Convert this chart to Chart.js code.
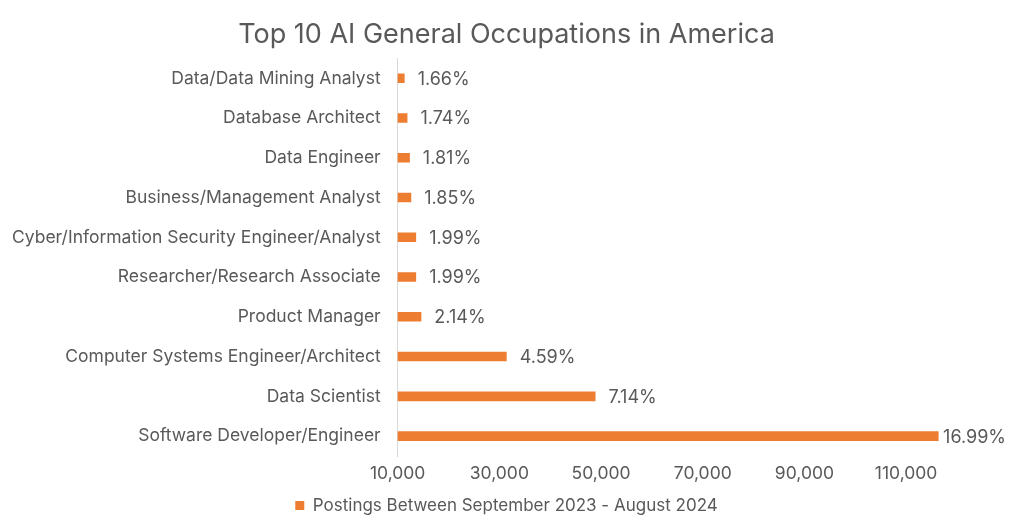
<!DOCTYPE html>
<html>
<head>
<meta charset="utf-8">
<script src="https://cdn.jsdelivr.net/npm/chart.js@4.4.1/dist/chart.umd.min.js"></script>
<style>
    html, body { margin: 0; padding: 0; background: #fff; }
    #wrap { width: 1024px; height: 532px; }
</style>
</head>
<body>
<div id="wrap"><canvas id="occupationsChart" width="1024" height="532"></canvas></div>
<script>
// occupations, top to bottom as in the picture
var occupations = [
    'Data/Data Mining Analyst',
    'Database Architect',
    'Data Engineer',
    'Business/Management Analyst',
    'Cyber/Information Security Engineer/Analyst',
    'Researcher/Research Associate',
    'Product Manager',
    'Computer Systems Engineer/Architect',
    'Data Scientist',
    'Software Developer/Engineer'
];
// postings
var postings = [11370, 11920, 12400, 12670, 13630, 13630, 14660, 31440, 48910, 116380];
// share labels printed at the bar ends
var shareLabels = ['1.66%', '1.74%', '1.81%', '1.85%', '1.99%', '1.99%', '2.14%', '4.59%', '7.14%', '16.99%'];
var xTicks = [10000, 30000, 50000, 70000, 90000, 110000];

var seriesName = 'Postings Between September 2023 - August 2024';
var fontFamily = 'Inter, "Noto Sans", sans-serif';
var textColor = '#595959';
var barColor = '#ED7D31';

var barLabels = {
    id: 'barLabels',
    afterDatasetsDraw: function(chart) {
        var ctx = chart.ctx;
        var meta = chart.getDatasetMeta(0);
        ctx.save();
        ctx.font = '18px ' + fontFamily;
        ctx.fillStyle = textColor;
        ctx.textAlign = 'left';
        ctx.textBaseline = 'middle';
        meta.data.forEach(function(bar, i) {
            var text = shareLabels[i];
            var x = bar.x + 13;
            var w = ctx.measureText(text).width;
            if (x + w > chart.width - 18) x = chart.width - 18 - w;
            ctx.fillText(text, x, bar.y + 1);
        });
        ctx.restore();
    }
};

var chart = new Chart(document.getElementById('occupationsChart'), {
    type: 'bar',
    data: {
        labels: occupations,
        datasets: [{
            label: seriesName,
            data: postings,
            backgroundColor: barColor,
            borderWidth: 0,
            barPercentage: 0.4,
            categoryPercentage: 0.6
        }]
    },
    options: {
        indexAxis: 'y',
        responsive: false,
        animation: false,
        layout: {
            padding: { left: -5, right: 6, top: 4, bottom: 8 }
        },
        plugins: {
            title: {
                display: true,
                text: 'Top 10 AI General Occupations in America',
                color: textColor,
                font: { family: fontFamily, size: 27, weight: 'normal' },
                padding: { top: 15, bottom: 7 }
            },
            legend: {
                position: 'bottom',
                labels: {
                    color: textColor,
                    font: { family: fontFamily, size: 17 },
                    boxWidth: 9,
                    boxHeight: 9,
                    padding: 6
                }
            },
            tooltip: { enabled: false }
        },
        scales: {
            x: {
                min: 10000,
                max: 132000,
                afterBuildTicks: function(axis) {
                    axis.ticks = xTicks.map(function(v) { return { value: v }; });
                },
                grid: { display: false, drawTicks: false },
                border: { display: false },
                ticks: {
                    color: textColor,
                    font: { family: fontFamily, size: 17.5 },
                    padding: 7,
                    maxRotation: 0,
                    callback: function(value) {
                        return value.toLocaleString('en-US');
                    }
                }
            },
            y: {
                grid: { display: false, drawTicks: false },
                border: { display: true, color: '#d9d9d9', width: 1 },
                ticks: {
                    color: textColor,
                    font: { family: fontFamily, size: 17.5 },
                    padding: 17
                }
            }
        }
    },
    plugins: [barLabels]
});
</script>
</body>
</html>
